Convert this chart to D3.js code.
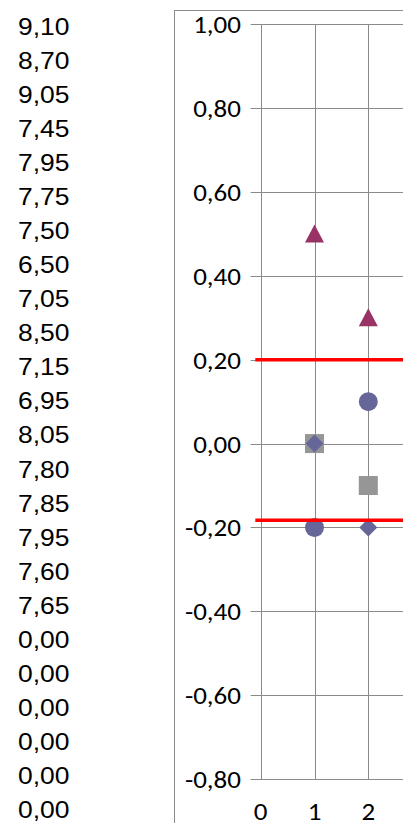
<!DOCTYPE html>
<html>
<head>
<meta charset="utf-8">
<script src="https://cdn.jsdelivr.net/npm/d3@7"></script>
<style>
body { margin: 0; background: #fff; }
.col text { font: 23px "Liberation Sans", Arial, sans-serif; fill: #000; }
.axis text { font: 23.5px Carlito, "Open Sans", sans-serif; fill: #000; }
.grid line { stroke: #8a8a8a; stroke-width: 1px; }
</style>
</head>
<body>
<script>
// column of values on the left
var colValues = [9.10, 8.70, 9.05, 7.45, 7.95, 7.75, 7.50, 6.50, 7.05, 8.50, 7.15, 6.95,
                 8.05, 7.80, 7.85, 7.95, 7.60, 7.65, 0, 0, 0, 0, 0, 0];

// chart series
var xTicks = [0, 1, 2];
var yTicks = [1.0, 0.8, 0.6, 0.4, 0.2, 0.0, -0.2, -0.4, -0.6, -0.8];
var triangles = [{x: 1, y: 0.5}, {x: 2, y: 0.3}];
var circles = [{x: 1, y: -0.2}, {x: 2, y: 0.1}];
var squares = [{x: 1, y: 0.0}, {x: 2, y: -0.1}];
var diamonds = [{x: 1, y: 0.0}, {x: 2, y: -0.2}];
var limits = [0.2, -0.183];

var width = 403, height = 823;
var stretch = 1.15; // the picture is a bit wider than tall
var loc = d3.formatLocale({decimal: ",", thousands: ".", grouping: [3], currency: ["", ""], minus: "-"});
var fmt = loc.format(".2f");

var svg = d3.select("body").append("svg")
    .attr("width", width)
    .attr("height", height);

// left column
svg.append("g").attr("class", "col")
  .selectAll("text")
  .data(colValues)
  .enter().append("text")
    .attr("transform", function(d, i) { return "translate(18," + (35 + i * 34.04) + ") scale(" + stretch + ",1)"; })
    .text(function(d) { return fmt(d); });

// chart area border
svg.append("rect")
    .attr("x", 174.5).attr("y", 10.5)
    .attr("width", 400).attr("height", 900)
    .style("fill", "none")
    .style("stroke", "#8c8c8c");

var x = d3.scaleLinear().domain([0, 1]).range([260.7, 314.5]);
var y = d3.scaleLinear().domain([-0.8, 1.0]).range([779, 24.3]);

// gridlines + tick marks
var grid = svg.append("g").attr("class", "grid");
grid.selectAll(".h")
  .data(yTicks)
  .enter().append("line")
    .attr("x1", x(0) - 10).attr("x2", width + 10)
    .attr("y1", function(d) { return Math.round(y(d)) + 0.5; })
    .attr("y2", function(d) { return Math.round(y(d)) + 0.5; });
grid.selectAll(".v")
  .data(xTicks)
  .enter().append("line")
    .attr("x1", function(d) { return Math.round(x(d)) + 0.5; })
    .attr("x2", function(d) { return Math.round(x(d)) + 0.5; })
    .attr("y1", Math.round(y(1.0)) + 0.5)
    .attr("y2", Math.round(y(-0.8)) + 0.5);

// y labels
svg.append("g").attr("class", "axis")
  .selectAll("text")
  .data(yTicks)
  .enter().append("text")
    .attr("transform", function(d) { return "translate(241," + (y(d) + 9) + ") scale(" + stretch + ",1)"; })
    .attr("text-anchor", "end")
    .text(fmt);

// x labels
svg.append("g").attr("class", "axis")
  .selectAll("text")
  .data(xTicks)
  .enter().append("text")
    .attr("transform", function(d) { return "translate(" + x(d) + ",820) scale(" + stretch + ",1)"; })
    .attr("text-anchor", "middle")
    .text(d3.format("d"));

// markers
svg.append("g").selectAll("rect")
  .data(squares)
  .enter().append("rect")
    .attr("x", function(d) { return x(d.x) - 9.5; })
    .attr("y", function(d) { return y(d.y) - 9.5; })
    .attr("width", 19).attr("height", 19)
    .style("fill", "#969696");

svg.append("g").selectAll("path")
  .data(diamonds)
  .enter().append("path")
    .attr("transform", function(d) { return "translate(" + x(d.x) + "," + y(d.y) + ")"; })
    .attr("d", "M0,-9L9,0L0,9L-9,0Z")
    .style("fill", "#666699");

svg.append("g").selectAll("circle")
  .data(circles)
  .enter().append("circle")
    .attr("cx", function(d) { return x(d.x); })
    .attr("cy", function(d) { return y(d.y); })
    .attr("r", 9.5)
    .style("fill", "#666699");

svg.append("g").selectAll("path")
  .data(triangles)
  .enter().append("path")
    .attr("transform", function(d) { return "translate(" + x(d.x) + "," + y(d.y) + ")"; })
    .attr("d", "M0,-9.5L9.5,8.5L-9.5,8.5Z")
    .style("fill", "#993366");

// limit lines
svg.append("g").selectAll("line")
  .data(limits)
  .enter().append("line")
    .attr("x1", x(-0.1)).attr("x2", width + 10)
    .attr("y1", function(d) { return y(d); })
    .attr("y2", function(d) { return y(d); })
    .style("stroke", "#ff0000")
    .style("stroke-width", 3.5);
</script>
</body>
</html>
